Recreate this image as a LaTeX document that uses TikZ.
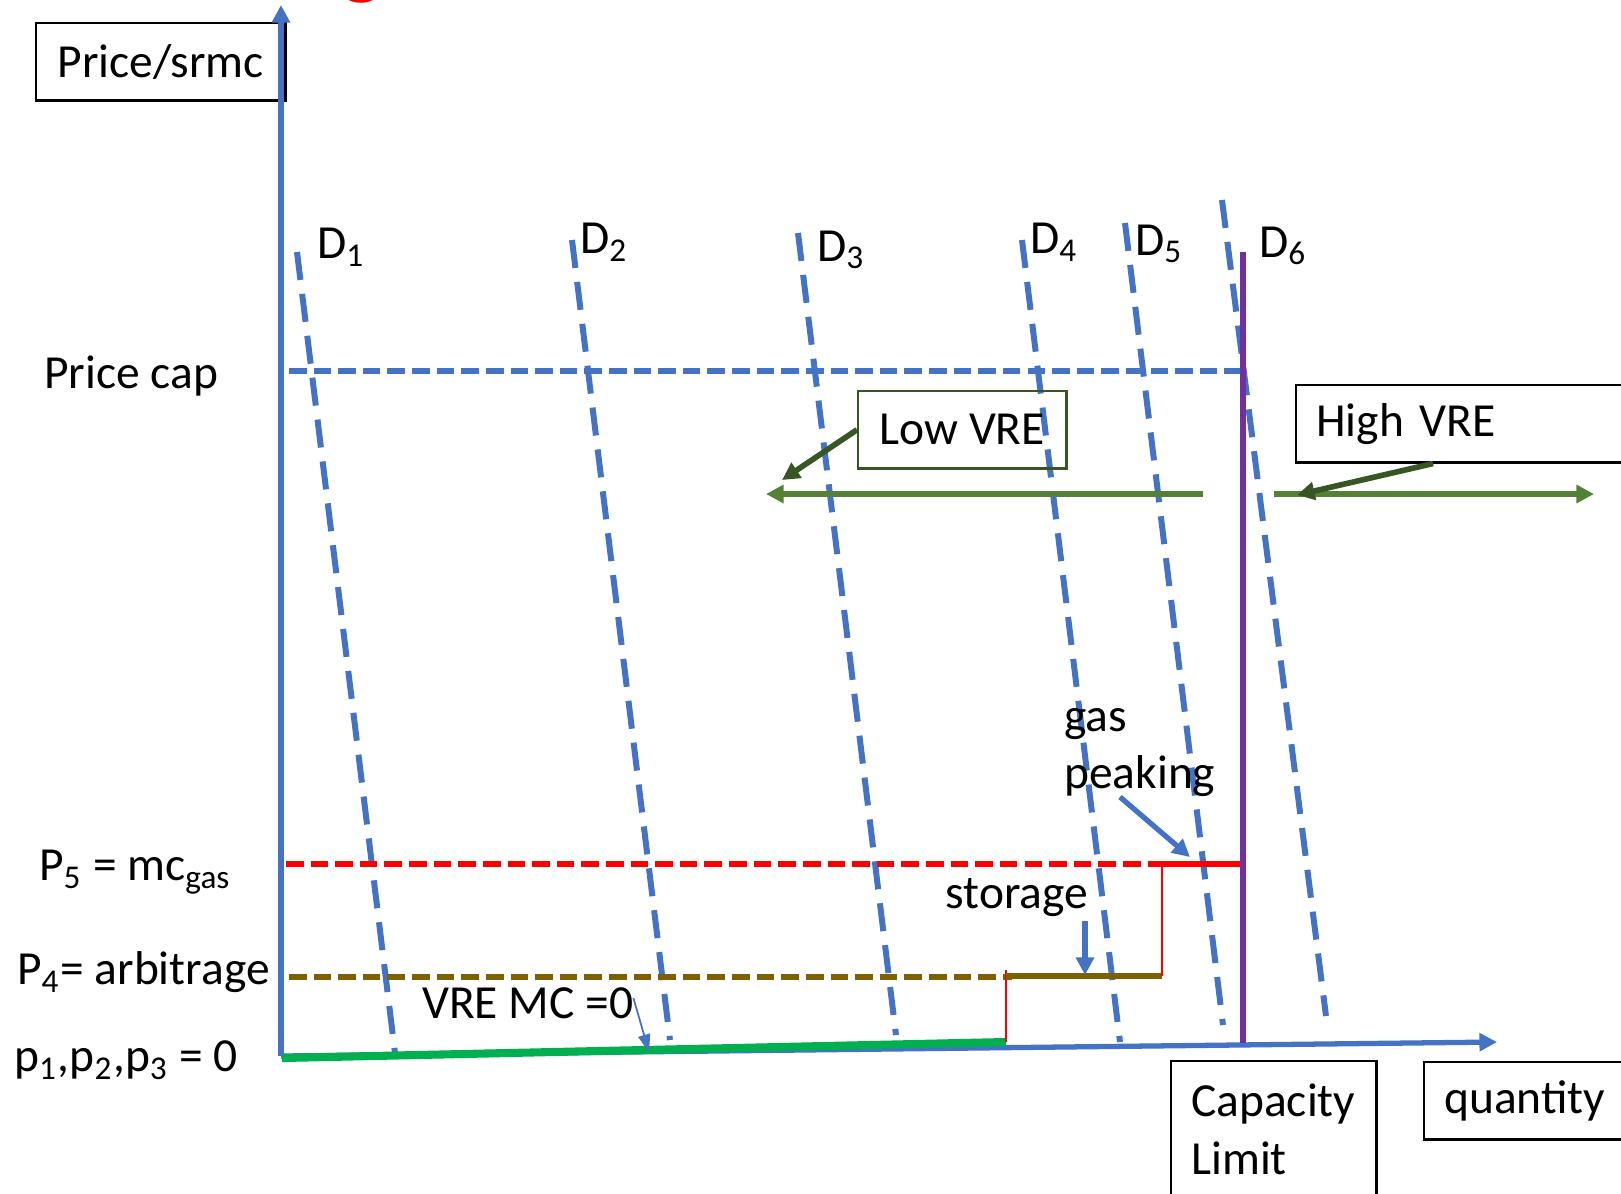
\documentclass[tikz,border=0pt]{standalone}
\usepackage{fontspec}
\setmainfont{Carlito}
\usepackage{xcolor}
\usepackage{tikz}
\usetikzlibrary{positioning,calc,arrows.meta}

\definecolor{axisblue}{HTML}{4472C4}
\definecolor{vregreen}{HTML}{00B050}
\definecolor{arrgreen}{HTML}{548235}
\definecolor{darkgreen}{HTML}{375623}
\definecolor{arbbrown}{HTML}{7F6000}
\definecolor{capviolet}{HTML}{7030A0}

\tikzset{
    lbl/.style={inner sep=1pt, font=\fontsize{13.5}{16.3}\selectfont},
    box/.style={lbl, draw=black, line width=0.7pt},
    demand/.style={axisblue, line width=1.7pt, dash pattern=on 8pt off 4pt},
    hdash/.style={line width=1.5pt, dash pattern=on 5pt off 2pt},
    tip/.style={-{Triangle[length=5pt,width=5pt]}},
}

\begin{document}
\begin{tikzpicture}[x=0.01cm, y=-0.01cm]
    \useasboundingbox (0,0) rectangle (1621,1193);

    % cut-off title
    \node[red, inner sep=0pt, font=\fontsize{26}{28}\selectfont, anchor=base] (title) at (362,-13) {g};

    % Axes
    \node[box, minimum width=2.49cm, minimum height=0.77cm, anchor=north west] (yaxislbl) at (35,22) {Price/srmc};
    \coordinate (O) at (281,1056);
    \coordinate (ytop) at (281,5);
    \coordinate (xend) at (1497,1042);
    \draw[axisblue, line width=1.5pt, tip] (O) -- (ytop);
    \draw[axisblue, line width=1.5pt, tip] (O) -- (xend);

    % Demand curves
    \draw[demand] (297,252) -- (395,1053);
    \draw[demand] (572,240) -- (670,1040);
    \draw[demand] (798,233) -- (896,1035);
    \draw[demand] (1022,240) -- (1120,1042);
    \draw[demand] (1125,223) -- (1223,1025);
    \draw[demand] (1222,200) -- (1326,1016);
    \node[lbl] (dlab1) at (341,247) {D\textsubscript{1}};
    \node[lbl] (dlab2) at (604,242) {D\textsubscript{2}};
    \node[lbl] (dlab3) at (841,250) {D\textsubscript{3}};
    \node[lbl] (dlab4) at (1054,242) {D\textsubscript{4}};
    \node[lbl] (dlab5) at (1159,244) {D\textsubscript{5}};
    \node[lbl] (dlab6) at (1283,246) {D\textsubscript{6}};

    % Price levels
    \draw[axisblue, hdash] (289,371) -- (1242,371);
    \draw[red, hdash] (286,864) -- (1162,864);
    \draw[arbbrown, hdash, line width=1.6pt] (289,977) -- (1012,977);
    \node[lbl, anchor=west] (pricecap) at (40,376) {Price cap};
    \node[lbl, anchor=west] (pfive) at (35,872) {P\textsubscript{5} = mc\textsubscript{gas}};
    \node[lbl, anchor=west] (pfour) at (13,972) {P\textsubscript{4}= arbitrage};
    \node[lbl, anchor=west] (pzero) at (10,1060) {p\textsubscript{1},p\textsubscript{2},p\textsubscript{3} = 0};

    % Supply steps
    \draw[vregreen, line width=2.3pt] (282,1058) -- (1006,1042);
    \draw[red, line width=0.5pt] (1006,1042) -- (1006,970);
    \draw[arbbrown, line width=1.6pt] (1006,976) -- (1162,976);
    \draw[red, line width=0.5pt] (1162,976) -- (1162,864);
    \draw[red, line width=1.5pt] (1162,864) -- (1242,864);

    % Capacity limit
    \draw[capviolet, line width=1.5pt] (1243,252) -- (1243,1043);
    \node[box, anchor=north west, text width=1.65cm, align=left, inner xsep=0.2cm, minimum height=1.36cm] (caplim) at (1170,1060) {Capacity\\Limit};
    \node[box, anchor=north west, text width=2cm, align=left, inner xsep=0.2cm, minimum height=0.77cm] (qty) at (1423,1061) {quantity};

    % VRE
    \node[lbl, anchor=west] (vremc) at (418,1003) {VRE MC =0};
    \coordinate (vretip) at (649,1052);
    \draw[axisblue, line width=0.5pt, -{Triangle[length=5pt,width=3.5pt]}] ([xshift=-0.04cm,yshift=0.05cm]vremc.east) -- (vretip);

    % Low / High VRE shifts
    \coordinate (lowend) at (766,494);
    \coordinate (lowstart) at (1203,494);
    \coordinate (highstart) at (1274,494);
    \coordinate (highend) at (1594,494);
    \draw[arrgreen, line width=1.6pt, tip] (lowstart) -- (lowend);
    \draw[arrgreen, line width=1.6pt, tip] (highstart) -- (highend);
    \node[box, draw=darkgreen, minimum width=2.08cm, minimum height=0.77cm, anchor=north west] (lowvre) at (857,390) {Low VRE};
    \node[box, anchor=north west, text width=3.3cm, align=left, inner xsep=0.2cm, minimum height=0.77cm] (highvre) at (1295,384) {High VRE};
    \coordinate (lowtip) at (782,480);
    \coordinate (hightip) at (1297,495);
    \draw[darkgreen, line width=1.6pt, tip] (lowvre.west) -- (lowtip);
    \draw[darkgreen, line width=1.6pt, tip] ([xshift=1.38cm]highvre.south west) -- (hightip);

    % Gas peaking and storage
    \node[lbl, anchor=north west, align=left] (gaspeak) at (1060,704) {gas\\peaking};
    \coordinate (gastip) at (1190,857);
    \draw[axisblue, line width=1.5pt, tip] (1120,797) -- (gastip);
    \node[lbl] (storage) at (1017,898) {storage};
    \coordinate (stortip) at (1085,975);
    \draw[axisblue, line width=1.5pt, tip] (storage.south east -| stortip) -- (stortip);
\end{tikzpicture}
\end{document}
